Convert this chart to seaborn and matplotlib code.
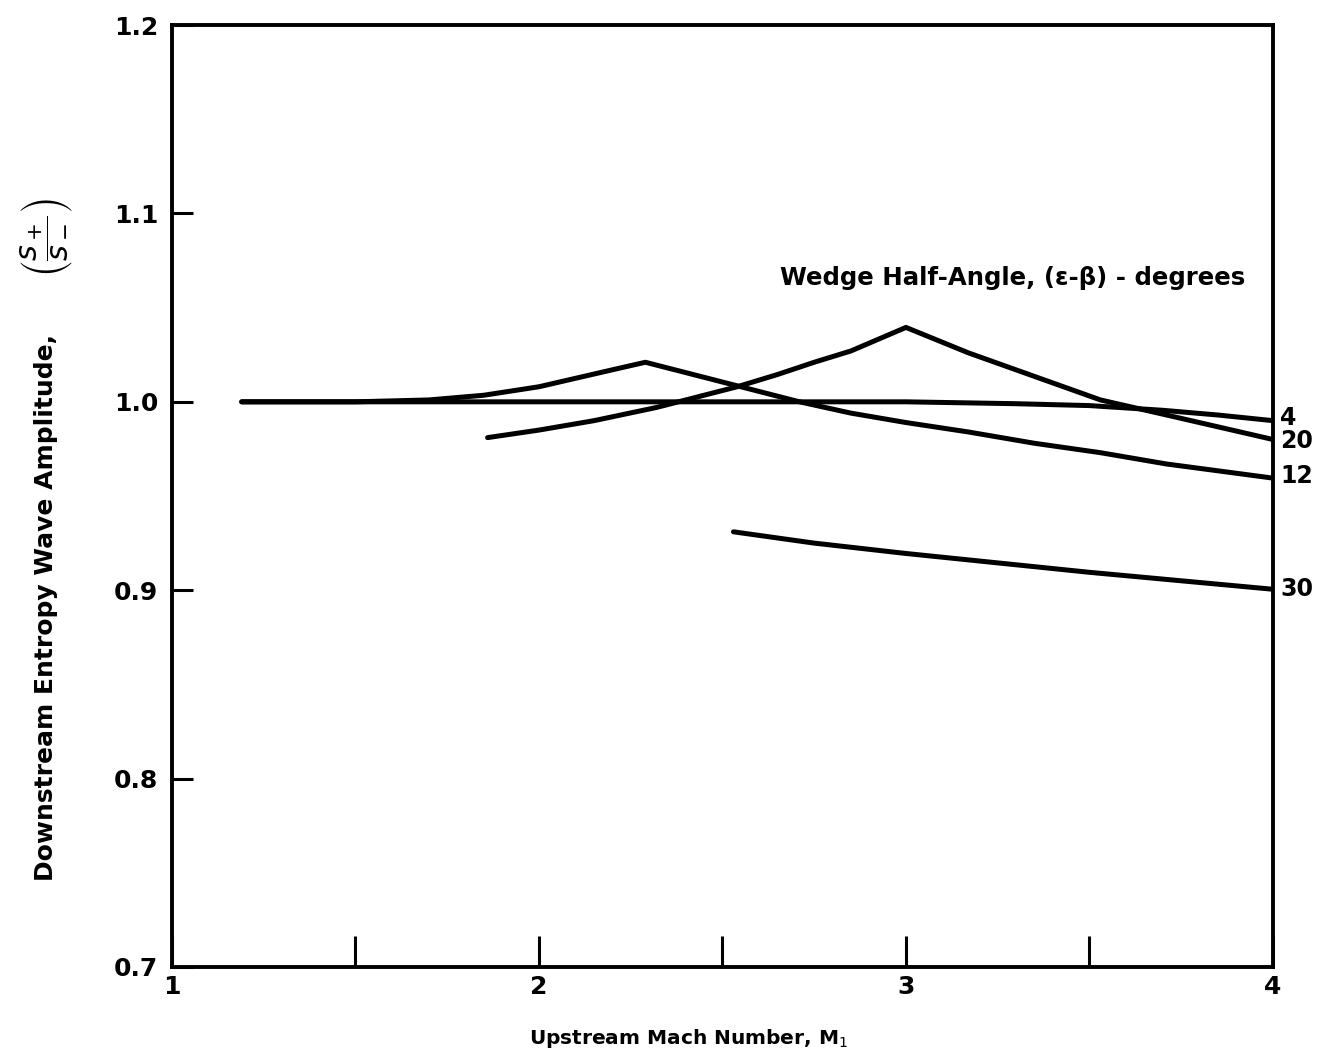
import numpy as np
import pandas as pd
import matplotlib
matplotlib.use("Agg")
import matplotlib.pyplot as plt
import seaborn as sns

# ---- data ----
x_4 = [1.19, 1.5, 2.0, 2.5, 3.0, 3.3, 3.5, 3.7, 3.85, 4.0]
y_4 = [1.000, 1.000, 1.000, 1.000, 1.000, 0.999, 0.998, 0.9955, 0.993, 0.990]

x_12 = [1.19, 1.5, 1.7, 1.85, 2.0, 2.1, 2.2, 2.29, 2.5, 2.71, 2.85, 3.0, 3.17, 3.35, 3.53, 3.71, 4.0]
y_12 = [1.000, 1.000, 1.001, 1.0035, 1.008, 1.0125, 1.017, 1.021, 1.0105, 1.000, 0.994, 0.989, 0.984, 0.978, 0.973, 0.967, 0.9595]

x_20 = [1.86, 2.0, 2.15, 2.32, 2.54, 2.65, 2.75, 2.85, 3.0, 3.17, 3.35, 3.53, 3.62, 3.71, 4.0]
y_20 = [0.981, 0.985, 0.990, 0.997, 1.008, 1.0145, 1.021, 1.027, 1.0395, 1.026, 1.0135, 1.001, 0.997, 0.993, 0.980]

x_30 = [2.53, 2.75, 3.0, 3.25, 3.5, 3.75, 4.0]
y_30 = [0.931, 0.925, 0.9195, 0.9145, 0.9095, 0.905, 0.9005]

angles = ["4", "20", "12", "30"]
end_label_y = [0.9914, 0.9792, 0.9606, 0.9006]

x_ticks = [1, 1.5, 2, 2.5, 3, 3.5, 4]
x_ticklabels = ["1", "", "2", "", "3", "", "4"]
y_ticks = [0.7, 0.8, 0.9, 1.0, 1.1, 1.2]
y_ticklabels = ["0.7", "0.8", "0.9", "1.0", "1.1", "1.2"]

frames = []
for name, xs, ys in [("4", x_4, y_4), ("12", x_12, y_12), ("20", x_20, y_20), ("30", x_30, y_30)]:
    frames.append(pd.DataFrame({"M1": xs, "ratio": ys, "angle": name}))
df = pd.concat(frames, ignore_index=True)

sns.set_style("ticks")
plt.rcParams["font.family"] = ["DejaVu Sans"]
plt.rcParams["mathtext.fontset"] = "dejavusans"
plt.rcParams["text.color"] = "black"
plt.rcParams["axes.labelcolor"] = "black"
plt.rcParams["xtick.color"] = "black"
plt.rcParams["ytick.color"] = "black"

fig = plt.figure(figsize=(13.31, 10.61), dpi=100)
ax = fig.add_axes([0.1292, 0.0886, 0.8272, 0.8878])

sns.lineplot(data=df, x="M1", y="ratio", hue="angle", units="angle",
             palette=["black"] * 4, estimator=None, sort=False,
             legend=False, linewidth=3.6, ax=ax)

ax.set_xlim(1, 4)
ax.set_ylim(0.7, 1.2)
ax.set_xticks(x_ticks)
ax.set_xticklabels(x_ticklabels)
ax.set_yticks(y_ticks)
ax.set_yticklabels(y_ticklabels)

for s in ax.spines.values():
    s.set_linewidth(2.8)
    s.set_color("black")

ax.tick_params(axis="x", direction="in", length=22, width=2.2, pad=6,
               labelsize=18, top=False)
ax.tick_params(axis="y", direction="in", length=15, width=2.2, pad=10,
               labelsize=18, right=False)
for lab in ax.get_xticklabels() + ax.get_yticklabels():
    lab.set_fontweight("bold")

ax.set_xlabel("Upstream Mach Number, M$_1$", fontsize=14.5, fontweight="bold")
ax.xaxis.set_label_coords(0.4687, -0.064)
ax.set_ylabel("Downstream Entropy Wave Amplitude,", fontsize=18, fontweight="bold")
ax.yaxis.set_label_coords(-0.1035, 0.382)

fig.text(0.0353, 0.7766, r"$\left(\dfrac{s_+}{s_-}\right)$", rotation=90,
         fontsize=22, ha="center", va="center")

ax.text(0.552, 0.7314, "Wedge Half-Angle, (ε-β) - degrees", transform=ax.transAxes,
        fontsize=17.6, fontweight="bold", ha="left", va="center")

for name, yv in zip(angles, end_label_y):
    ax.text(4.02, yv, name, fontsize=17, fontweight="bold", ha="left", va="center",
            clip_on=False)

fig.savefig("out.png", dpi=100, facecolor="white")
